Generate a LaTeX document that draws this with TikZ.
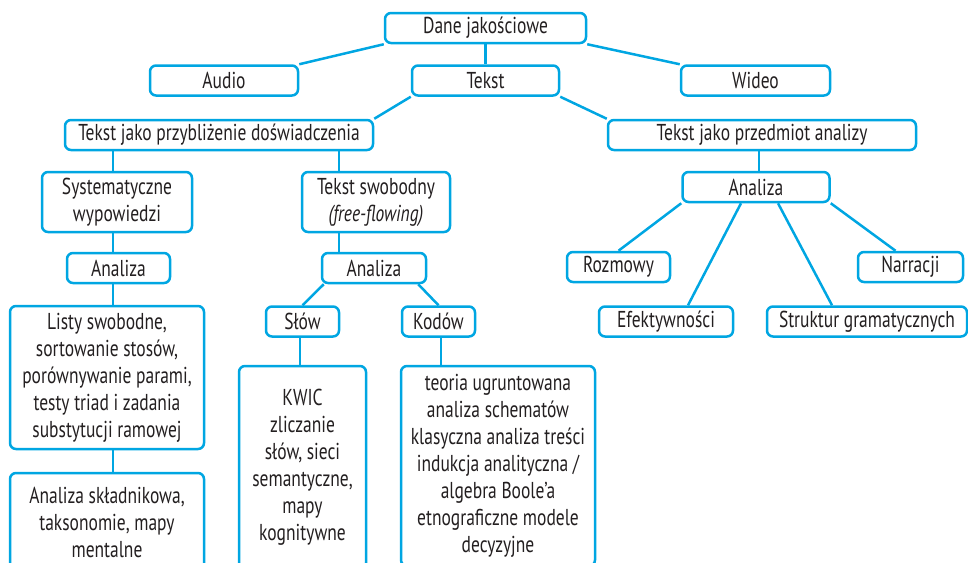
\documentclass[tikz,border=0pt]{standalone}
\usepackage{fontspec}
\setmainfont[FakeStretch=0.76]{PT Sans}
\definecolor{linkcolor}{RGB}{0,166,226}
\definecolor{textcolor}{RGB}{35,31,32}

\begin{document}
\begin{tikzpicture}[x=1pt, y=1pt,
	box/.style={draw=linkcolor, line width=2.5pt, rounded corners=6pt,
		fill=white, text=textcolor, align=center, inner sep=2pt,
		minimum height=30pt},
	link/.style={draw=linkcolor, line width=2.5pt},
	node distance=52.5pt,
	every node/.style={font=\fontsize{23}{27}\selectfont},
]
\useasboundingbox (0,0) rectangle (968,-562);
% \connectv{parent}{child}{x shift}: vertical link from the child's top
% up to the parent's bottom.
\def\connectv#1#2#3{
	\draw[link] ([xshift=#3]#2.north) -- ([xshift=#3]#2.north |- #1.south);
}
	\node[box, minimum width=201pt] (dane) at (485.5,-28) {Dane jakościowe};
	\node[box, below of=dane, xshift=-261.5pt, minimum width=148pt] (audio) {Audio};
	\node[box, below of=dane, minimum width=147pt] (tekst) {Tekst};
	\node[box, below of=dane, xshift=270pt, minimum width=149pt] (wideo) {Wideo};
	\draw[link] (dane.south west) -- (audio.north east);
	\draw[link] (dane.south east) -- (wideo.north west);
	\draw[link] (dane.south) -- (tekst.north);

	\node[box, below of=tekst, xshift=-266.5pt, yshift=-2pt,
		minimum width=308pt] (przyb) {Tekst jako przybliżenie doświadczenia};
	\node[box, below of=tekst, xshift=276.5pt, yshift=-2pt,
		minimum width=308pt] (przedm) {Tekst jako przedmiot analizy};
	\draw[link] (tekst.south west) -- (przyb.north east);
	\draw[link] (tekst.south east) -- (przedm.north west);

	% left branch
	\node[box, below of=przyb, xshift=-102pt, yshift=-14.5pt, minimum width=150pt,
		minimum height=60pt] (sys) {Systematyczne\\wypowiedzi};
	\node[box, below of=przyb, xshift=157pt, yshift=-14.5pt, minimum width=148pt,
		minimum height=60pt] (swob) {Tekst swobodny\\\textit{(free-flowing)}};
	\connectv{przyb}{sys}{-4pt}
	\connectv{przyb}{swob}{-37pt}

	\node[box, below of=sys, xshift=1.5pt, yshift=-13.5pt, minimum width=103pt] (analizaL) {Analiza};
	\node[box, below of=analizaL, xshift=-11.5pt, yshift=-57pt, minimum width=194pt,
		minimum height=143pt] (listy) {Listy swobodne,\\sortowanie stosów,\\porównywanie parami,\\testy triad i zadania\\substytucji ramowej};
	\node[box, below of=listy, yshift=-92pt, minimum width=194pt,
		minimum height=98pt] (skladn) {Analiza składnikowa,\\taksonomie, mapy\\mentalne};
	\connectv{sys}{analizaL}{-5.5pt}
	\connectv{analizaL}{listy}{6pt}
	\connectv{listy}{skladn}{6pt}

	\node[box, below of=swob, xshift=-2pt, yshift=-13.5pt, minimum width=104pt] (analizaM) {Analiza};
	\node[box, below of=analizaM, xshift=-71.5pt, yshift=-1pt, minimum width=73pt] (slow) {Słów};
	\node[box, below of=analizaM, xshift=64.5pt, yshift=-1pt, minimum width=73pt] (kodow) {Kodów};
	\connectv{swob}{analizaM}{-35pt}
	\draw[link] ([xshift=3pt]analizaM.south west) -- (slow.north);
	\draw[link] ([xshift=-9pt]analizaM.south east) -- (kodow.north);
	\node[box, below of=slow, yshift=-93.5pt, minimum width=127pt,
		minimum height=203pt] (kwic) {KWIC\\zliczanie\\słów, sieci\\semantyczne,\\mapy\\kognitywne};
	\node[box, below of=kodow, xshift=59.5pt, yshift=-92pt, minimum width=194pt,
		minimum height=200pt] (teoria) {teoria ugruntowana\\analiza schematów\\klasyczna analiza treści\\indukcja analityczna /\\algebra Boole’a\\etnograficzne modele\\decyzyjne};
	\connectv{slow}{kwic}{-2.5pt}
	\connectv{kodow}{teoria}{-57pt}

	% right branch
	\node[box, below of=przedm, xshift=-6pt, yshift=0.5pt, minimum width=147pt] (analizaR) {Analiza};
	\connectv{przedm}{analizaR}{3pt}
	\node[box, below of=analizaR, xshift=-137.5pt, yshift=-27.5pt, minimum width=103pt] (rozmowy) {Rozmowy};
	\node[box, below of=analizaR, xshift=154.5pt, yshift=-27.5pt, minimum width=105pt] (narracji) {Narracji};
	\node[box, below of=analizaR, xshift=-90pt, yshift=-82pt, minimum width=134pt] (efekt) {Efektywności};
	\node[box, below of=analizaR, xshift=111pt, yshift=-82pt, minimum width=200pt] (struktur) {Struktur gramatycznych};
	\draw[link] (analizaR.south west) -- (rozmowy.north);
	\draw[link] ([xshift=-15pt]analizaR.south) -- ([xshift=22pt]efekt.north);
	\draw[link] ([xshift=22pt]analizaR.south) -- ([xshift=-35pt]struktur.north);
	\draw[link] (analizaR.south east) -- ([xshift=-15pt]narracji.north);
\end{tikzpicture}
\end{document}
